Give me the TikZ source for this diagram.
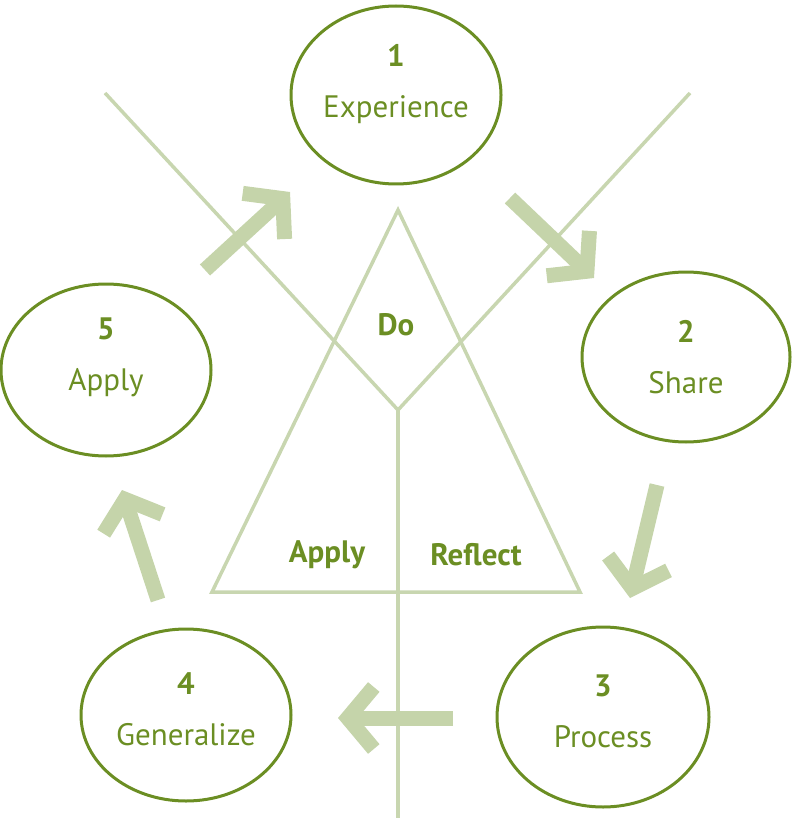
\documentclass[tikz,border=0pt]{standalone}
\usepackage{fontspec}
\setmainfont{PT Sans}
\usetikzlibrary{arrows.meta}
\definecolor{dg}{RGB}{107,142,35}
\definecolor{lg}{RGB}{200,214,176}
\definecolor{ag}{RGB}{197,212,170}
\begin{document}
\begin{tikzpicture}[x=1pt,y=-1pt,
  lbl/.style={text=dg,font=\fontsize{31}{31}\selectfont,align=center},
  big/.style={draw=ag,line width=15pt,-{Straight Barb[length=26pt,width=62pt,line width=15pt]}},
  thin/.style={draw=lg,line width=3.5pt},
  bt/.style={text=dg,font=\bfseries\fontsize{31}{31}\selectfont}]
\useasboundingbox (0,0) rectangle (792,818);
% light lines
\coordinate (c) at (398,410);
\coordinate (tl) at (105,93);
\coordinate (tr) at (690,93);
\coordinate (bot) at (398,818);
\draw[thin] (tl) -- (c) -- (tr);
\draw[thin] (c) -- (bot);
\coordinate (t1) at (398,210);
\coordinate (t2) at (212,592);
\coordinate (t3) at (580,592);
\draw[thin,line join=miter] (t1) -- (t2) -- (t3) -- cycle;
\node[bt] (do) at (396,325) {Do};
\node[bt] (ap) at (327,555) {Apply};
\node[bt] (re) at (476,555) {Reflect};
% ellipses
\draw[dg,line width=3pt] (396,95) ellipse [x radius=105,y radius=89];
\draw[dg,line width=3pt] (686,357) ellipse [x radius=104,y radius=85];
\draw[dg,line width=3pt] (603,717) ellipse [x radius=106,y radius=90];
\draw[dg,line width=3pt] (186,715) ellipse [x radius=105,y radius=86];
\draw[dg,line width=3pt] (106,370) ellipse [x radius=105,y radius=86];
\node[lbl] (n1) at (396,84) {\textbf{1}\\[20pt]Experience};
\node[lbl] (n2) at (686,357) {\textbf{2}\\[20pt]Share};
\node[lbl] (n3) at (603,711) {\textbf{3}\\[20pt]Process};
\node[lbl] (n4) at (186,709) {\textbf{4}\\[20pt]Generalize};
\node[lbl] (n5) at (106,357) {\textbf{5}\\[20pt]Apply};
% arrows
\coordinate (a1s) at (205,270); \coordinate (a1e) at (290,192);
\coordinate (a2s) at (510,198); \coordinate (a2e) at (594,278);
\coordinate (a3s) at (657,485); \coordinate (a3e) at (630,598);
\coordinate (a4s) at (453,718); \coordinate (a4e) at (338,718);
\coordinate (a5s) at (158,600); \coordinate (a5e) at (122,490);
\draw[big] (a1s) -- (a1e);
\draw[big] (a2s) -- (a2e);
\draw[big] (a3s) -- (a3e);
\draw[big] (a4s) -- (a4e);
\draw[big] (a5s) -- (a5e);
\end{tikzpicture}
\end{document}
